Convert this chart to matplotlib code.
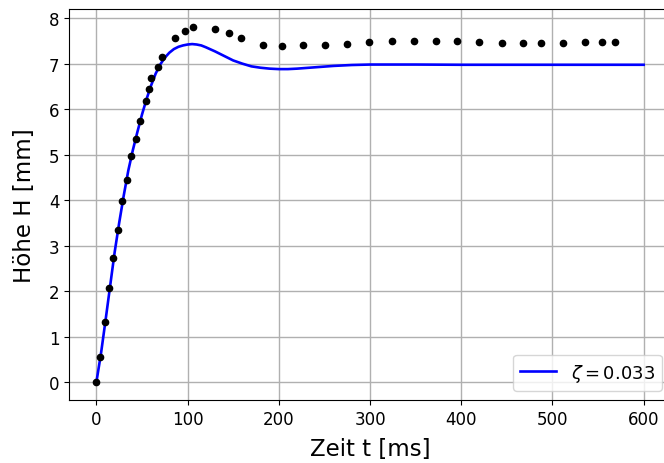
import matplotlib
matplotlib.use('Agg')
import matplotlib.pyplot as plt

# Messpunkte
t_mess = [0, 4.4, 10, 14, 18.6, 24, 28.5, 34, 38, 44, 48, 54, 58, 60, 68, 72,
          86.5, 97.5, 106, 130, 145, 159, 183, 203, 227, 251, 275, 299, 324,
          348, 372, 395, 419, 445, 468, 487, 512, 536, 554, 569]
h_mess = [0, 0.55, 1.32, 2.08, 2.72, 3.35, 3.99, 4.45, 4.96, 5.35, 5.75, 6.18,
          6.45, 6.69, 6.93, 7.15, 7.57, 7.72, 7.81, 7.76, 7.68, 7.57, 7.41, 7.39,
          7.41, 7.41, 7.43, 7.48, 7.50, 7.50, 7.50, 7.50, 7.48, 7.46, 7.46, 7.46,
          7.46, 7.48, 7.48, 7.48]

# Modellkurve
t_mod = [0, 5, 10, 15, 20, 25, 30, 35, 40, 45, 50, 55, 60, 65, 70, 75, 80, 85,
         90, 95, 100, 105, 110, 115, 120, 130, 140, 150, 160, 170, 180, 190,
         200, 210, 220, 240, 260, 280, 300, 350, 400, 450, 500, 550, 600]
h_mod = [0, 0.62, 1.35, 2.1, 2.85, 3.5, 4.1, 4.65, 5.1, 5.5, 5.88, 6.22, 6.52,
         6.78, 6.98, 7.13, 7.24, 7.32, 7.37, 7.40, 7.42, 7.43, 7.42, 7.40, 7.36,
         7.27, 7.17, 7.07, 7.0, 6.94, 6.91, 6.89, 6.88, 6.88, 6.89, 6.92, 6.95,
         6.97, 6.98, 6.98, 6.975, 6.975, 6.975, 6.975, 6.975]

fig = plt.figure(figsize=(6.64, 4.64), dpi=100)
# Achsen ragen rechts etwas über den Bildrand hinaus (wie im Original)
ax = fig.add_axes([69 / 664, 63 / 464, 602 / 664, 391 / 464])
ax.plot(t_mod, h_mod, color='blue', lw=1.9, label=r'$\zeta = 0.033$')
ax.plot(t_mess, h_mess, 'o', color='black', ms=4.5)
ax.grid(True, color='#b0b0b0', lw=1)
ax.set_axisbelow(True)
ax.set_xlabel('Zeit t [ms]', fontsize=16.5, labelpad=7)
ax.set_ylabel('Höhe H [mm]', fontsize=16.5, labelpad=9)
ax.tick_params(labelsize=12)
ax.legend(loc='lower right', fontsize=13)
plt.savefig('out.png')
